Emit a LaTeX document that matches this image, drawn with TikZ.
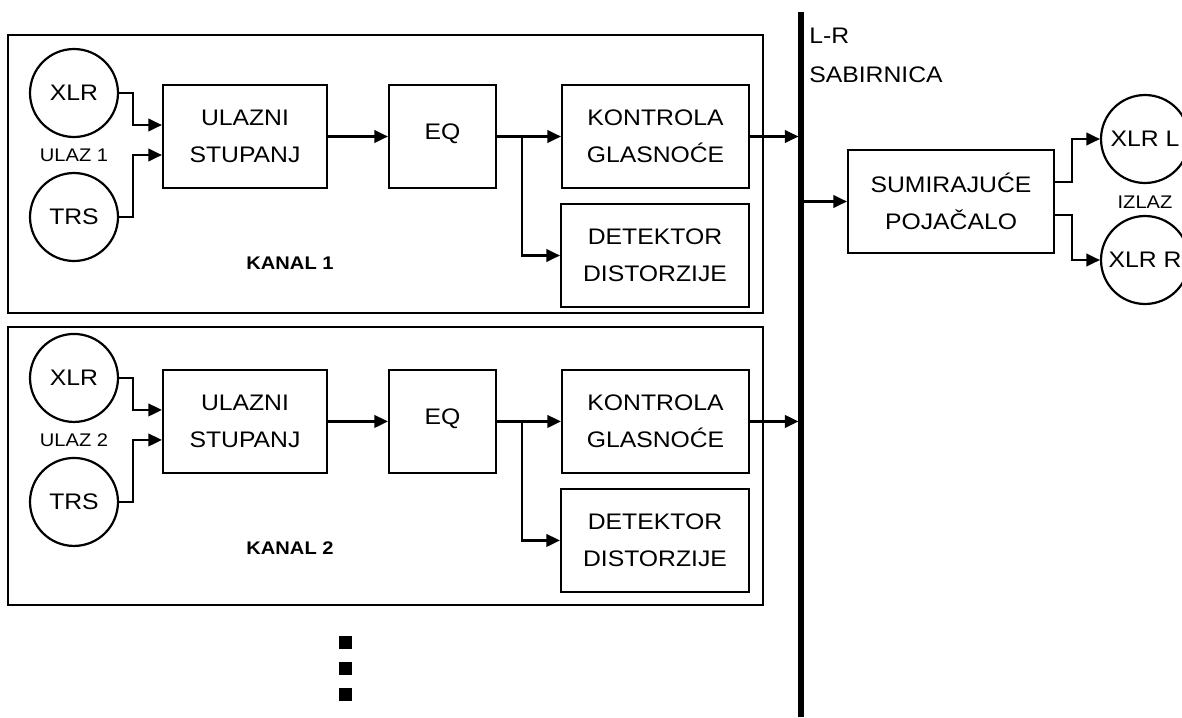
\documentclass[tikz,border=0pt]{standalone}
\usepackage{fontspec}
\setmainfont{Liberation Sans}[FakeStretch=1.1]
\usetikzlibrary{arrows.meta,calc}
\tikzset{
  blk/.style={draw, line width=1.25pt, inner sep=0pt, align=center, font=\fontsize{12.8}{21}\selectfont},
  conn/.style={draw, circle, line width=1.25pt, minimum size=1.76cm, inner sep=0pt, font=\fontsize{12.8}{15}\selectfont},
  lbl/.style={inner sep=0pt, font=\fontsize{10.4}{12}\selectfont},
  kanal/.style={draw, line width=1.25pt, inner sep=0pt},
  arr/.style={line width=1.25pt, -{Triangle[length=0.27cm, width=0.25cm]}},
  dot/.style={fill, inner sep=0pt, minimum size=0.26cm},
  txt/.style={inner sep=0pt, anchor=base west, font=\fontsize{12.8}{15}\selectfont},
}
\newcommand\mychannel[3]{%
  \begin{scope}[yshift=#2]
    \node[conn] (xlr#1) at (74,93) {XLR};
    \node[conn] (trs#1) at (74,217) {TRS};
    \node[lbl] (ulaz#1) at (74,155) {ULAZ #3};
    \node[blk, minimum width=3.28cm, minimum height=2.06cm] (ul#1) at (245,136.5) {ULAZNI\\STUPANJ};
    \node[blk, minimum width=2.14cm, minimum height=2.06cm] (eq#1) at (442.5,136.5) {\raisebox{0.18cm}{EQ}};
    \node[blk, minimum width=3.74cm, minimum height=2.06cm] (kg#1) at (655.5,136.5) {KONTROLA\\GLASNOĆE};
    \node[blk, minimum width=3.76cm, minimum height=2.06cm] (dd#1) at (655,255.5) {DETEKTOR\\DISTORZIJE};
    \node[lbl, font=\bfseries\fontsize{10.4}{12}\selectfont] (kn#1) at (290,263) {KANAL #3};
    \coordinate (br#1) at (522,136.5);
    \draw[arr] (xlr#1.east) -| (133,125) -- (ul#1.west |- 133,125);
    \draw[arr] (trs#1.east) -| (133,155) -- (ul#1.west |- 133,155);
    \draw[arr] (ul#1) -- (eq#1);
    \draw[arr] (eq#1.east) -- (kg#1.west);
    \draw[arr] (br#1) |- (dd#1.west);
  \end{scope}}
\begin{document}
\begin{tikzpicture}[x=0.02cm, y=-0.02cm]
  \fill[white] (0,0) rectangle (1182,717);
  \useasboundingbox (0,0) rectangle (1182,717);
  % channel frames
  \node[kanal, minimum width=15.1cm, minimum height=5.56cm] (k1) at (385.5,174) {};
  \node[kanal, minimum width=15.1cm, minimum height=5.56cm] (k2) at (385.5,466) {};
  \mychannel{1}{0cm}{1}
  \mychannel{2}{-5.7cm}{2}
  % bus
  \coordinate (bt) at (801,12);
  \coordinate (bb) at (801,717);
  \draw[line width=2.9pt] (bt) -- (bb);
  \node[txt] (lr) at (809,43) {L-R};
  \node[txt] (sab) at (809,82) {SABIRNICA};
  \draw[arr, shorten >=1.45pt] (kg1.east) -- (kg1.east -| bt);
  \draw[arr, shorten >=1.45pt] (kg2.east) -- (kg2.east -| bt);
  % summing amplifier and outputs
  \node[blk, minimum width=4.12cm, minimum height=2.06cm] (sum) at (951,201.5) {SUMIRAJUĆE\\POJAČALO};
  \draw[arr] (sum.west -| bt) -- (sum.west);
  \node[conn] (xl) at (1145,139) {XLR L};
  \node[conn] (xr) at (1145,260) {XLR R};
  \node[lbl] (izlaz) at (1145,202) {IZLAZ};
  \draw[arr] (sum.east |- 0,182) -| (1072,139) -- (xl.west);
  \draw[arr] (sum.east |- 0,215) -| (1072,260) -- (xr.west);
  % continuation dots
  \node[dot] (d1) at (345,642) {};
  \node[dot] (d2) at (345,668) {};
  \node[dot] (d3) at (345,694) {};
\end{tikzpicture}
\end{document}
